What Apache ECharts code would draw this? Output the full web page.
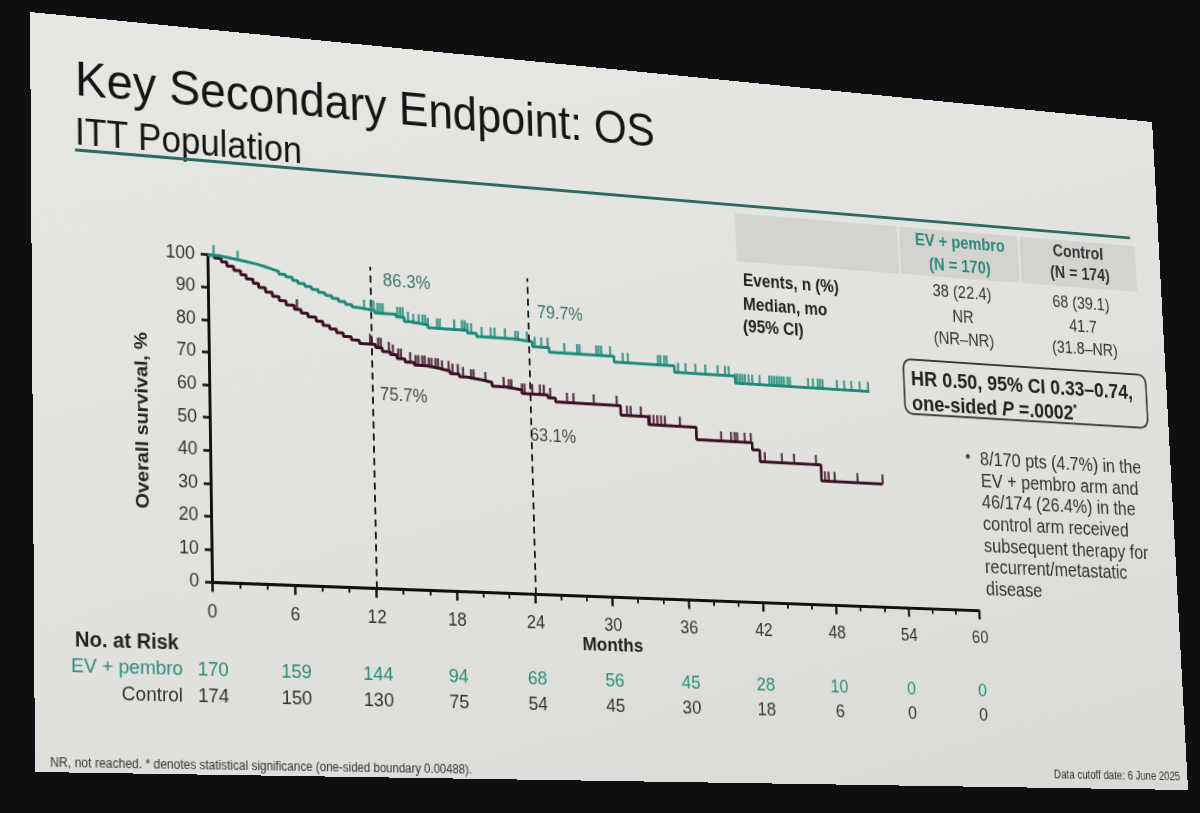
<!DOCTYPE html>
<html lang="en">
<head>
<meta charset="UTF-8">
<title>Key Secondary Endpoint: OS</title>
<script src="https://cdn.jsdelivr.net/npm/echarts@6/dist/echarts.min.js"></script>
<style>
    html, body { margin: 0; padding: 0; width: 1200px; height: 813px; overflow: hidden; background: #0f0e11; }
    #slide {
        position: absolute; left: 0; top: 0; width: 1280px; height: 720px;
        transform-origin: 0 0;
        background: linear-gradient(165deg, #e7e8e3 0%, #e1e2dd 55%, #d9dad5 100%);
    }
</style>
</head>
<body>
<div id="slide"></div>
<script>
    // x axis ticks and numbers at risk
    const monthTicks = [0, 6, 12, 18, 24, 30, 36, 42, 48, 54, 60];
    const riskEV = [170, 159, 144, 94, 68, 56, 45, 28, 10, 0, 0];
    const riskCtrl = [174, 150, 130, 75, 54, 45, 30, 18, 6, 0, 0];

    // KM steps: time (months) and survival (%) from that time on
    const evTimes = [0, 0.8, 1.8, 2.8, 3.6, 4.2, 4.7, 5.2, 5.7, 6.2, 6.6, 7.1, 7.6, 8.1, 8.6, 9.1, 9.6, 10.1, 10.6, 11.0,
        12.3, 13.9, 14.5, 15.0, 16.3, 19.3, 20.0, 23.0, 24.3, 25.6, 30.7, 35.5, 40.4, 51.5];
    const evSurv = [100, 99.4, 98.8, 98.2, 97.6, 97.0, 96.4, 95.6, 94.9, 94.0, 93.2, 92.4, 91.6, 90.8, 90.0, 89.2, 88.4, 87.6, 86.9, 86.3,
        85.6, 84.8, 83.5, 82.9, 82.0, 81.2, 80.3, 79.7, 78.2, 76.8, 75.0, 72.9, 70.6, 70.6];
    const ctrlTimes = [0, 0.5, 1.0, 1.4, 1.9, 2.4, 2.8, 3.3, 3.7, 4.2, 4.7, 5.2, 5.7, 6.3, 6.8, 7.3, 7.9, 8.4, 8.9, 9.4,
        9.9, 10.5, 11.1, 12.3, 12.8, 13.4, 13.9, 14.5, 15.2, 16.2, 17.1, 17.9, 18.6, 19.2, 20.4, 21.1, 22.2, 23.4,
        25.4, 26.0, 31.1, 33.3, 37.1, 41.6, 42.2, 47.2, 52.3];
    const ctrlSurv = [100, 99.2, 98.2, 97.0, 95.8, 94.6, 93.4, 92.2, 91.0, 89.8, 88.6, 87.4, 86.2, 85.0, 84.0, 83.0, 81.8, 80.6, 79.6, 78.6,
        77.6, 76.6, 75.7, 74.7, 73.6, 72.8, 71.7, 70.8, 70.0, 69.4, 68.8, 68.0, 67.2, 66.6, 66.0, 64.8, 64.2, 63.1,
        62.2, 61.0, 58.0, 55.5, 51.5, 49.2, 45.5, 40.3, 40.3];

    // censored patients (months)
    const evCensor = [0.45, 2.2, 11.5, 12.0, 12.2, 12.5, 12.7, 12.9, 14.0, 14.2, 14.4, 14.8, 15.2, 15.6, 15.9, 16.1, 16.3,
        17.0, 17.2, 18.3, 18.9, 19.1, 19.3, 19.6, 20.4, 21.1, 21.4, 22.2, 23.0, 23.2, 23.9, 24.5, 25.0, 25.5, 26.8,
        27.8, 28.0, 29.3, 29.5, 29.7, 30.4, 31.4, 31.8, 34.2, 34.4, 34.7, 34.9, 35.8, 36.4, 37.2, 38.0, 39.0, 39.6,
        39.9, 40.4, 40.6, 40.8, 41.0, 41.2, 41.5, 41.8, 42.4, 43.2, 43.4, 43.6, 43.8, 44.0, 44.2, 44.4, 44.7, 44.9,
        46.4, 46.8, 47.2, 47.4, 47.6, 48.8, 49.4, 50.0, 50.7, 51.4];
    const ctrlCensor = [6.5, 11.9, 12.5, 12.7, 13.3, 13.6, 14.0, 14.2, 14.9, 15.3, 15.5, 15.8, 16.0, 16.3, 16.5, 16.8,
        17.0, 17.3, 17.8, 18.1, 18.5, 18.9, 19.5, 19.7, 20.6, 22.0, 22.4, 22.6, 23.4, 23.6, 24.2, 24.8, 25.1, 25.6,
        26.9, 27.4, 29.0, 30.8, 31.6, 31.9, 32.7, 33.4, 33.7, 34.0, 34.3, 34.6, 35.8, 39.1, 39.9, 40.2, 40.4, 41.0,
        41.5, 42.6, 44.0, 45.0, 46.8, 47.5, 47.8, 48.3, 50.2, 52.3];

    const landmarks = [12, 24];

    const EV_COLOR = '#1f8a7b';
    const EV_TEXT = '#2a8a7d';
    const CTRL_COLOR = '#3b0f26';
    const FONT = '"Liberation Sans", Arial, sans-serif';

    // the slide is photographed at an angle: map the flat 1280x720 slide onto the photo quad
    const W = 1280, H = 720;
    const quad = [[30, 12], [1152, 122], [1188, 790], [35, 772]]; // TL, TR, BR, BL

    function homography(q) {
        const [x0, y0] = q[0], [x1, y1] = q[1], [x2, y2] = q[2], [x3, y3] = q[3];
        const sx = x0 - x1 + x2 - x3, sy = y0 - y1 + y2 - y3;
        const dx1 = x1 - x2, dx2 = x3 - x2, dy1 = y1 - y2, dy2 = y3 - y2;
        const det = dx1 * dy2 - dx2 * dy1;
        const g = (sx * dy2 - dx2 * sy) / det, h = (dx1 * sy - sx * dy1) / det;
        return {a: x1 - x0 + g * x1, b: x3 - x0 + h * x3, c: x0, d: y1 - y0 + g * y1, e: y3 - y0 + h * y3, f: y0, g: g, h: h};
    }
    const P = homography(quad);
    document.getElementById('slide').style.transform = 'matrix3d(' +
        [P.a / W, P.d / W, 0, P.g / W, P.b / H, P.e / H, 0, P.h / H, 0, 0, 1, 0, P.c, P.f, 0, 1].join(',') + ')';

    // photo pixel -> slide pixel
    function flat(x, y) {
        const a11 = P.a - P.g * x, a12 = P.b - P.h * x, b1 = x - P.c;
        const a21 = P.d - P.g * y, a22 = P.e - P.h * y, b2 = y - P.f;
        const det = a11 * a22 - a12 * a21;
        return [(b1 * a22 - a12 * b2) / det * W, (a11 * b2 - a21 * b1) / det * H];
    }

    function survAt(times, surv, t) {
        let v = surv[0];
        for (let i = 0; i < times.length; i++) if (times[i] <= t) v = surv[i];
        return v;
    }

    function text(px, py, str, size, color, align, weight) {
        const p = flat(px, py);
        return {
            type: 'text', x: p[0], y: p[1], silent: true,
            style: {text: str, fill: color, font: (weight || 'normal') + ' ' + size + 'px ' + FONT,
                textAlign: align || 'left', textVerticalAlign: 'middle'}
        };
    }

    const o0 = flat(212, 581), o60 = flat(979, 612), o100 = flat(210, 255);
    const gLeft = o0[0], gTop = o100[1], gBottom = (o0[1] + o60[1]) / 2;

    const chart = echarts.init(document.getElementById('slide'), null, {width: W, height: H});

    chart.setOption({
        animation: false,
        backgroundColor: 'transparent',
        grid: {left: gLeft, top: gTop, width: o60[0] - gLeft, height: gBottom - gTop, outerBoundsMode: 'none'},
        xAxis: {
            type: 'value', min: 0, max: 60, interval: 6,
            axisLine: {show: true, onZero: false, lineStyle: {color: '#111', width: 3}},
            axisTick: {show: true, length: 9, lineStyle: {color: '#111', width: 2.5}},
            minorTick: {show: true, splitNumber: 3, length: 5, lineStyle: {color: '#111', width: 2}},
            axisLabel: {color: '#333', fontSize: 18, fontFamily: FONT, margin: 20},
            splitLine: {show: false}
        },
        yAxis: {
            type: 'value', min: 0, max: 100, interval: 10,
            axisLine: {show: true, onZero: false, lineStyle: {color: '#111', width: 3}},
            axisTick: {show: true, length: 7, lineStyle: {color: '#111', width: 2.5}},
            axisLabel: {color: '#333', fontSize: 18, fontFamily: FONT, margin: 13},
            splitLine: {show: false}
        },
        series: [
            {
                name: 'EV + pembro', type: 'line', step: 'end', clip: false, z: 4,
                data: evTimes.map((t, i) => [t, evSurv[i]]),
                symbol: 'none', lineStyle: {color: EV_COLOR, width: 3},
                markLine: {
                    silent: true, symbol: 'none', label: {show: false},
                    lineStyle: {color: '#1a1a1a', width: 2, type: [7, 5]},
                    data: landmarks.map(m => [{coord: [m, 0]}, {coord: [m, 100]}])
                }
            },
            {
                name: 'Control', type: 'line', step: 'end', clip: false, z: 3,
                data: ctrlTimes.map((t, i) => [t, ctrlSurv[i]]),
                symbol: 'none', lineStyle: {color: CTRL_COLOR, width: 3}
            },
            {
                type: 'scatter', silent: true, clip: false, z: 5,
                data: evCensor.map(t => [t, survAt(evTimes, evSurv, t)]),
                symbol: 'rect', symbolSize: [2.5, 10], symbolOffset: [0, -5], itemStyle: {color: EV_COLOR}
            },
            {
                type: 'scatter', silent: true, clip: false, z: 4,
                data: ctrlCensor.map(t => [t, survAt(ctrlTimes, ctrlSurv, t)]),
                symbol: 'rect', symbolSize: [2.5, 10], symbolOffset: [0, -5], itemStyle: {color: CTRL_COLOR}
            }
        ]
    });

    const g = [];
    // title block
    g.push(text(75, 81, 'Key Secondary Endpoint: OS', 48, '#151515'));
    g.push(text(75, 134, 'ITT Population', 36, '#151515'));
    const u1 = flat(75, 150), u2 = flat(1130, 238);
    g.push({type: 'line', silent: true, shape: {x1: u1[0], y1: u1[1], x2: u2[0], y2: u2[1]},
        style: {stroke: '#2c6b63', lineWidth: 3}});

    // axis titles
    const yn = flat(143, 420);
    g.push({type: 'text', x: yn[0], y: yn[1], rotation: Math.PI / 2, silent: true,
        style: {text: 'Overall survival, %', fill: '#222', font: 'bold 19px ' + FONT, textAlign: 'center', textVerticalAlign: 'middle'}});
    g.push(text(613, 646, 'Months', 19, '#222', 'center', 'bold'));

    // landmark percentages
    g.push(text(383, 281, '86.3%', 18, '#3e726b'));
    g.push(text(380, 395, '75.7%', 18, '#4a4a4a'));
    g.push(text(537, 313, '79.7%', 18, '#3e726b'));
    g.push(text(530, 436, '63.1%', 18, '#4a4a4a'));

    // numbers at risk
    g.push(text(75, 641, 'No. at Risk', 20, '#222', 'left', 'bold'));
    g.push(text(183, 669, 'EV + pembro', 19, EV_TEXT, 'right'));
    g.push(text(183, 696, 'Control', 19, '#333', 'right'));
    const rowEV = flat(212, 670)[1], rowCtrl = flat(212, 697)[1];
    monthTicks.forEach((m, i) => {
        const x = chart.convertToPixel({gridIndex: 0}, [m, 0])[0];
        g.push({type: 'text', x: x, y: rowEV, silent: true,
            style: {text: String(riskEV[i]), fill: EV_TEXT, font: '19px ' + FONT, textAlign: 'center', textVerticalAlign: 'middle'}});
        g.push({type: 'text', x: x, y: rowCtrl, silent: true,
            style: {text: String(riskCtrl[i]), fill: '#333', font: '19px ' + FONT, textAlign: 'center', textVerticalAlign: 'middle'}});
    });

    // summary table
    const b1 = flat(735, 213), b2 = flat(1137, 292);
    g.push({type: 'rect', silent: true, shape: {x: b1[0], y: b1[1], width: b2[0] - b1[0], height: b2[1] - b1[1]},
        style: {fill: '#d3d4d0'}});
    [899, 1019].forEach(px => {
        const s = flat(px, 250)[0];
        g.push({type: 'rect', silent: true, shape: {x: s - 1.5, y: b1[1], width: 3, height: b2[1] - b1[1]},
            style: {fill: '#e0e1dc'}});
    });
    g.push(text(960, 244, 'EV + pembro', 18, EV_TEXT, 'center', 'bold'));
    g.push(text(960, 267, '(N = 170)', 18, EV_TEXT, 'center', 'bold'));
    g.push(text(1078, 253, 'Control', 18, '#333', 'center', 'bold'));
    g.push(text(1080, 275, '(N = 174)', 18, '#333', 'center', 'bold'));
    g.push(text(743, 281, 'Events, n (%)', 18, '#222', 'left', 'bold'));
    g.push(text(743, 305, 'Median, mo', 18, '#222', 'left', 'bold'));
    g.push(text(743, 327, '(95% CI)', 18, '#222', 'left', 'bold'));
    g.push(text(962, 293, '38 (22.4)', 18, '#333', 'center'));
    g.push(text(1081, 304, '68 (39.1)', 18, '#333', 'center'));
    g.push(text(963, 318, 'NR', 18, '#333', 'center'));
    g.push(text(964, 340, '(NR\u2013NR)', 18, '#333', 'center'));
    g.push(text(1083, 327, '41.7', 18, '#333', 'center'));
    g.push(text(1085, 350, '(31.8\u2013NR)', 18, '#333', 'center'));

    // hazard ratio box
    const h1 = flat(903, 359), h2 = flat(1148, 428);
    g.push({type: 'rect', silent: true, shape: {x: h1[0], y: h1[1], width: h2[0] - h1[0], height: h2[1] - h1[1], r: 9},
        style: {fill: 'none', stroke: '#3a3a3a', lineWidth: 2}});
    g.push(text(911, 379, 'HR 0.50, 95% CI 0.33\u20130.74,', 22, '#222', 'left', 'bold'));
    const hp = flat(912, 404);
    g.push({type: 'text', x: hp[0], y: hp[1], silent: true,
        style: {
            text: '{b|one-sided }{i|P}{b| =.0002}{s|*}', textAlign: 'left', textVerticalAlign: 'middle',
            rich: {
                b: {fill: '#222', font: 'bold 22px ' + FONT},
                i: {fill: '#222', font: 'italic bold 22px ' + FONT},
                s: {fill: '#222', font: 'bold 12px ' + FONT, verticalAlign: 'top'}
            }
        }});

    // bullet note
    g.push(text(968, 458, '\u2022', 18, '#444', 'center'));
    const bt = flat(980, 460);
    g.push({type: 'text', x: bt[0], y: bt[1] - 11.3, silent: true,
        style: {
            text: '8/170 pts (4.7%) in the\nEV + pembro arm and\n46/174 (26.4%) in the\ncontrol arm received\nsubsequent therapy for\nrecurrent/metastatic\ndisease',
            fill: '#333', font: '20px ' + FONT, lineHeight: 22.6, textAlign: 'left', textVerticalAlign: 'top'
        }});

    // footnotes
    g.push(text(50, 763, 'NR, not reached. * denotes statistical significance (one-sided boundary 0.00488).', 12, '#333'));
    g.push(text(1180, 777, 'Data cutoff date: 6 June 2025', 12, '#333', 'right'));

    chart.setOption({graphic: g});
</script>
</body>
</html>
